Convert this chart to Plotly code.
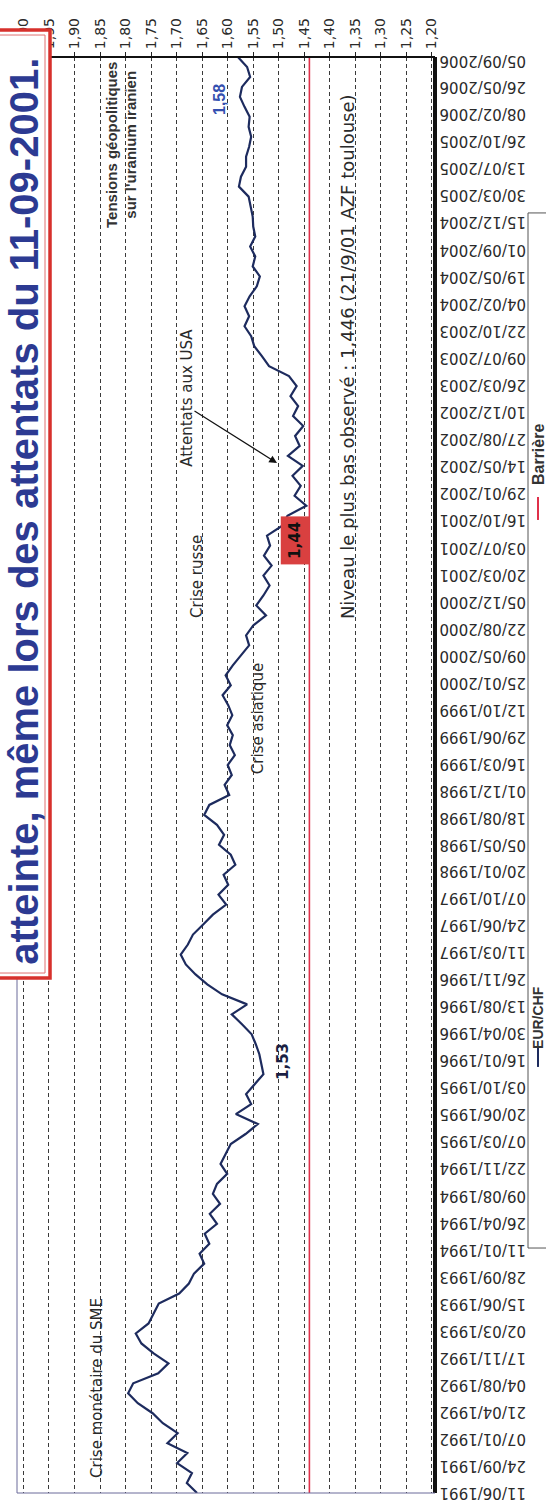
import pandas as pd
import plotly.graph_objects as go

# ---- data -------------------------------------------------------------
start_date = "1991-06-11"
end_date = "2006-09-20"

# EUR/CHF (ECU/CHF before 1999), chronological
eurchf = [
    1.660, 1.680, 1.670, 1.699, 1.679, 1.718, 1.698, 1.727, 1.747, 1.776,
    1.795, 1.785, 1.736, 1.716, 1.745, 1.769, 1.780, 1.755, 1.745, 1.735,
    1.695, 1.676, 1.666, 1.646, 1.655, 1.636, 1.645, 1.621, 1.635, 1.615,
    1.629, 1.621, 1.601, 1.614, 1.604, 1.594, 1.565, 1.541, 1.584, 1.554,
    1.564, 1.547, 1.530, 1.534, 1.538, 1.545, 1.553, 1.572, 1.592, 1.562,
    1.611, 1.640, 1.663, 1.682, 1.692, 1.678, 1.668, 1.648, 1.629, 1.603,
    1.618, 1.599, 1.608, 1.585, 1.594, 1.617, 1.607, 1.621, 1.646, 1.636,
    1.597, 1.606, 1.592, 1.600, 1.586, 1.596, 1.590, 1.601, 1.591, 1.599,
    1.610, 1.594, 1.604, 1.590, 1.574, 1.558, 1.564, 1.550, 1.525, 1.544,
    1.530, 1.518, 1.530, 1.514, 1.529, 1.517, 1.523, 1.493, 1.483, 1.446,
    1.469, 1.457, 1.473, 1.453, 1.482, 1.459, 1.468, 1.452, 1.472, 1.462,
    1.477, 1.465, 1.480, 1.519, 1.533, 1.548, 1.554, 1.567, 1.558, 1.567,
    1.557, 1.543, 1.537, 1.551, 1.546, 1.556, 1.546, 1.550, 1.551, 1.555,
    1.559, 1.578, 1.574, 1.564, 1.564, 1.558, 1.554, 1.559, 1.557, 1.567,
    1.576, 1.572, 1.556, 1.562, 1.580,
]

barriere = 1.44

date_labels = [
    "11/06/1991", "24/09/1991", "07/01/1992", "21/04/1992", "04/08/1992",
    "17/11/1992", "02/03/1993", "15/06/1993", "28/09/1993", "11/01/1994",
    "26/04/1994", "09/08/1994", "22/11/1994", "07/03/1995", "20/06/1995",
    "03/10/1995", "16/01/1996", "30/04/1996", "13/08/1996", "26/11/1996",
    "11/03/1997", "24/06/1997", "07/10/1997", "20/01/1998", "05/05/1998",
    "18/08/1998", "01/12/1998", "16/03/1999", "29/06/1999", "12/10/1999",
    "25/01/2000", "09/05/2000", "22/08/2000", "05/12/2000", "20/03/2001",
    "03/07/2001", "16/10/2001", "29/01/2002", "14/05/2002", "27/08/2002",
    "10/12/2002", "26/03/2003", "09/07/2003", "22/10/2003", "04/02/2004",
    "19/05/2004", "01/09/2004", "15/12/2004", "30/03/2005", "13/07/2005",
    "26/10/2005", "08/02/2006", "26/05/2006", "05/09/2006",
]

value_ticks = [1.20, 1.25, 1.30, 1.35, 1.40, 1.45, 1.50, 1.55, 1.60,
               1.65, 1.70, 1.75, 1.80, 1.85, 1.90, 1.95, 2.00]
value_labels = [f"{v:.2f}".replace(".", ",") for v in value_ticks]

title_text = "atteinte, même lors des attentats du 11-09-2001."

# ---- figure -----------------------------------------------------------
dates = pd.date_range(start_date, end_date, periods=len(eurchf))
tick_dates = pd.to_datetime(date_labels, format="%d/%m/%Y")

NAVY = "#1d2b5e"
RED = "#e0304a"
TXT = "#2a2a2a"

fig = go.Figure()

fig.add_trace(go.Scatter(
    x=[barriere, barriere], y=[start_date, end_date], mode="lines",
    line=dict(color=RED, width=1.6), name="Barrière", showlegend=False,
))
fig.add_trace(go.Scatter(
    x=eurchf, y=dates, mode="lines",
    line=dict(color=NAVY, width=2.2), name="EUR/CHF", showlegend=False,
))

fig.update_layout(
    width=546, height=1503,
    margin=dict(l=17, r=111, t=57, b=10),
    paper_bgcolor="white", plot_bgcolor="white",
    showlegend=False,
    xaxis=dict(
        range=[2.0126, 1.194], side="top",
        tickvals=value_ticks, ticktext=value_labels, tickangle=-90,
        tickfont=dict(family="DejaVu Sans", size=14, color=TXT),
        ticks="outside", ticklen=4, tickcolor="#222",
        showgrid=True, gridcolor="#3a3a3a", gridwidth=1, griddash="4px,3px",
        zeroline=False, showline=False,
    ),
    yaxis=dict(
        type="date", range=[start_date, end_date], side="right",
        tickvals=tick_dates, showticklabels=False,
        ticks="", showgrid=False, zeroline=False, showline=False,
    ),
)

# date labels, printed upside down to the right of the frame
for d, lab in zip(tick_dates, date_labels):
    fig.add_annotation(xref="paper", yref="y", x=1.1148, y=d, text=lab,
                       textangle=180, showarrow=False,
                       xanchor="center", yanchor="middle",
                       font=dict(family="DejaVu Sans", size=15, color=TXT))

# plot frame
frame = [
    dict(x0=0, x1=1, y0=1, y1=1, color="#111", width=2),
    dict(x0=1, x1=1, y0=0, y1=1, color="#111", width=4),
    dict(x0=0, x1=0, y0=0, y1=1, color="#6a6a9a", width=1),
    dict(x0=0, x1=1, y0=0, y1=0, color="#6a6a9a", width=1),
]
for f in frame:
    fig.add_shape(type="line", xref="paper", yref="paper",
                  x0=f["x0"], x1=f["x1"], y0=f["y0"], y1=f["y1"],
                  line=dict(color=f["color"], width=f["width"]))

# title box
fig.add_shape(type="rect", xref="paper", yref="paper",
              x0=-0.09, x1=0.079, y0=0.3586, y1=1.0188,
              fillcolor="white", line=dict(color="#d7312c", width=3.5),
              layer="above")
fig.add_shape(type="rect", xref="paper", yref="paper",
              x0=-0.09, x1=0.067, y0=0.3621, y1=1.0153,
              fillcolor="rgba(0,0,0,0)", line=dict(color="#e07070", width=1),
              layer="above")
fig.add_annotation(xref="paper", yref="paper", x=0.0167, y=0.684,
                   text=f"<b>{title_text}</b>", textangle=-90, showarrow=False,
                   xanchor="center", yanchor="middle",
                   font=dict(family="Liberation Sans", size=40, color="#2c3a92"))

# chart notes
def note(x, y, text, size=15, color=TXT, family="DejaVu Sans", **kw):
    fig.add_annotation(x=x, y=y, text=text, textangle=-90, showarrow=False,
                       xanchor="center", yanchor="middle",
                       font=dict(family=family, size=size, color=color), **kw)

note(1.809, "2005-10-13", "<b>Tensions géopolitiques<br>sur l'uranium iranien</b>",
     size=15, family="Liberation Sans", color="#333")
note(1.615, "2006-04-06", "<b>1,58</b>", size=16, family="Liberation Sans",
     color="#3450b0")
note(1.680, "2003-02-03", "Attentats aux USA", size=15)
note(1.660, "2001-03-10", "Crise russe", size=15)
note(1.5406, "1999-09-04", "Crise asiatique", size=15)
note(1.4916, "1996-01-11", "<b>1,53</b>", size=15, color="#1a1f44")
note(1.3663, "2003-07-12",
     "Niveau le plus bas observé : 1,446 (21/9/01 AZF toulouse)", size=18)
note(1.856, "1992-07-23", "Crise monétaire du SME", size=15)
note(1.468, "2001-07-28", "<b>1,44</b>", size=15, color="#111",
     bgcolor="#d94040", borderpad=5)

fig.add_annotation(x=1.5034, y="2002-05-26", ax=-84, ay=-53,
                   axref="pixel", ayref="pixel", text="", showarrow=True,
                   arrowhead=2, arrowsize=1.3, arrowwidth=1.2, arrowcolor="#111")

# legend
fig.add_shape(type="rect", xref="paper", yref="paper",
              x0=1.2225, x1=1.4, y0=0.1706, y1=0.8914,
              line=dict(color="#555", width=1))
fig.add_shape(type="line", xref="paper", yref="paper",
              x0=1.2464, x1=1.2464, y0=0.6776, y1=0.6936,
              line=dict(color=RED, width=2))
fig.add_shape(type="line", xref="paper", yref="paper",
              x0=1.2464, x1=1.2464, y0=0.2967, y1=0.3106,
              line=dict(color=NAVY, width=2))
fig.add_annotation(xref="paper", yref="paper", x=1.2464, y=0.7235,
                   text="<b>Barrière</b>", textangle=-90, showarrow=False,
                   xanchor="center", yanchor="middle",
                   font=dict(family="Liberation Sans", size=16, color="#333"))
fig.add_annotation(xref="paper", yref="paper", x=1.2464, y=0.3315,
                   text="<b>EUR/CHF</b>", textangle=-90, showarrow=False,
                   xanchor="center", yanchor="middle",
                   font=dict(family="Liberation Sans", size=14, color="#333"))

fig.write_html("out.html")
